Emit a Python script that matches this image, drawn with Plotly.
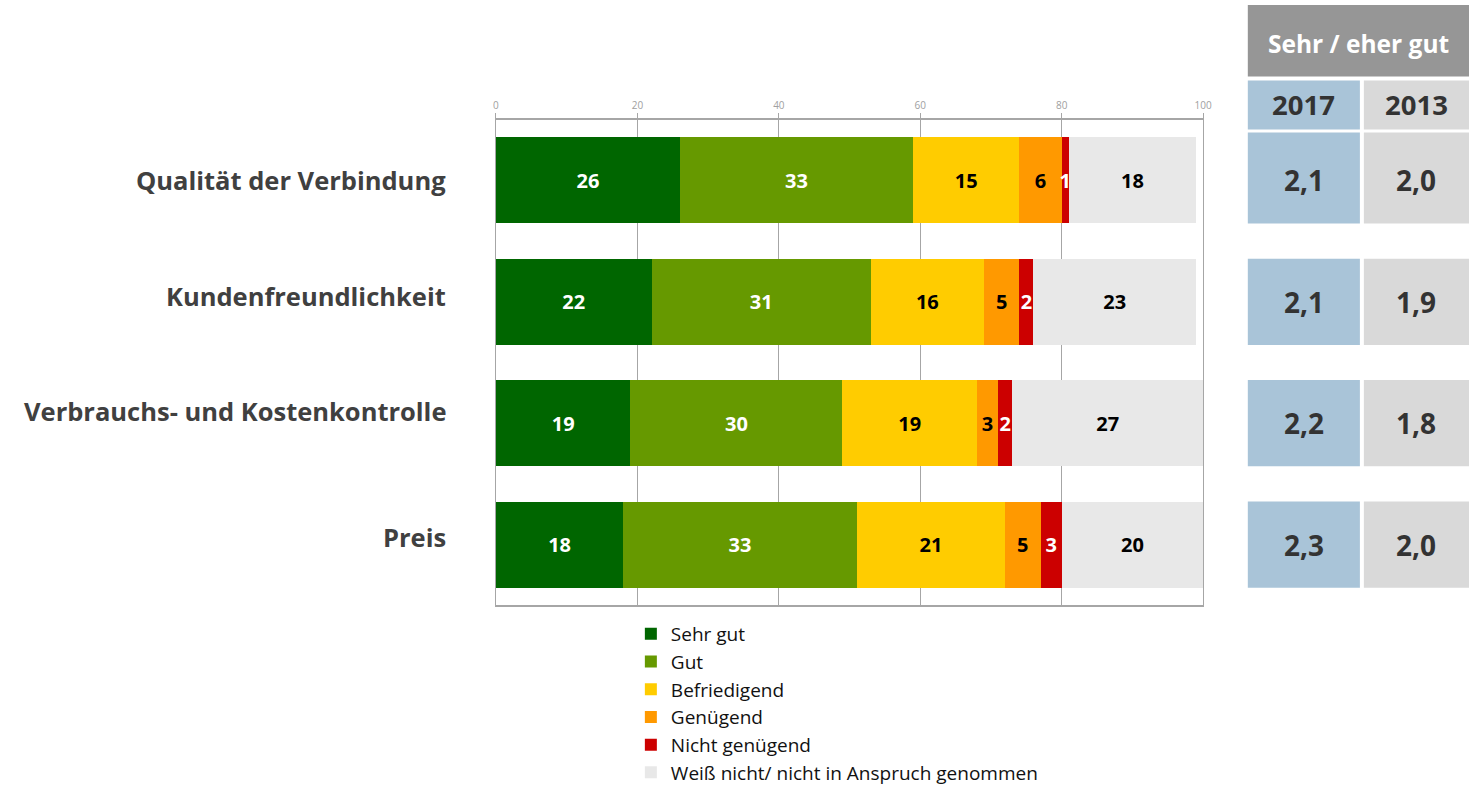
import plotly.graph_objects as go

# Zufriedenheit mit dem Anbieter (Angaben in %)
categories = [
    "Qualität der Verbindung",
    "Kundenfreundlichkeit",
    "Verbrauchs- und Kostenkontrolle",
    "Preis",
]
series_names = [
    "Sehr gut",
    "Gut",
    "Befriedigend",
    "Genügend",
    "Nicht genügend",
    "Weiß nicht/ nicht in Anspruch genommen",
]
sehr_gut = [26, 22, 19, 18]
gut = [33, 31, 30, 33]
befriedigend = [15, 16, 19, 21]
genuegend = [6, 5, 3, 5]
nicht_genuegend = [1, 2, 2, 3]
weiss_nicht = [18, 23, 27, 20]

# Durchschnittsnoten "Sehr / eher gut"
table_header = "Sehr / eher gut"
years = ["2017", "2013"]
score_2017 = ["2,1", "2,1", "2,2", "2,3"]
score_2013 = ["2,0", "1,9", "1,8", "2,0"]

series_values = [sehr_gut, gut, befriedigend, genuegend, nicht_genuegend, weiss_nicht]
colors = ["#006600", "#669900", "#FFCC00", "#FF9900", "#CC0000", "#E8E8E8"]
text_colors = ["white", "white", "black", "black", "white", "black"]

W, H = 1478, 792
FONT = "Open Sans"
BAR_W = 0.71


def px_x(p):
    return p / W


def px_y(p):
    return 1 - p / H


fig = go.Figure()
for name, vals, col, tcol in zip(series_names, series_values, colors, text_colors):
    fig.add_trace(go.Bar(
        y=categories,
        x=vals,
        name=name,
        orientation="h",
        width=BAR_W,
        marker=dict(color=col, line=dict(width=0)),
        text=vals,
        texttemplate="%{x}",
        textposition="inside",
        insidetextanchor="middle",
        textangle=0,
        constraintext="none",
        insidetextfont=dict(family=FONT, size=20, color=tcol, weight="bold"),
        cliponaxis=False,
        hoverinfo="skip",
    ))

grid_col = "#A6A6A6"
fig.update_layout(
    width=W,
    height=H,
    barmode="stack",
    paper_bgcolor="white",
    plot_bgcolor="white",
    margin=dict(l=0, r=0, t=0, b=0),
    showlegend=True,
    legend=dict(
        x=px_x(633), y=px_y(627), xanchor="left", yanchor="top",
        font=dict(family=FONT, size=19, color="#111111"),
        traceorder="normal",
        bgcolor="rgba(0,0,0,0)",
        itemclick=False,
    ),
    xaxis=dict(
        domain=[px_x(497), px_x(1210)],
        range=[0, 100],
        side="top",
        tickvals=[0, 20, 40, 60, 80, 100],
        tickfont=dict(family=FONT, size=10, color="#A0A0A0"),
        ticks="outside",
        ticklen=5,
        tickcolor=grid_col,
        showgrid=True,
        gridcolor=grid_col,
        gridwidth=1,
        showline=True,
        linecolor=grid_col,
        linewidth=1.5,
        mirror=True,
        zeroline=False,
        fixedrange=True,
    ),
    yaxis=dict(
        domain=[px_y(617), px_y(122)],
        autorange="reversed",
        showticklabels=False,
        ticks="",
        showgrid=False,
        showline=True,
        linecolor=grid_col,
        linewidth=1,
        mirror=True,
        fixedrange=True,
    ),
)

# Kategorienbeschriftungen links
label_shift = [0, 6, 12, 8]
for cat, ys in zip(categories, label_shift):
    fig.add_annotation(
        x=px_x(449), xref="paper", xanchor="right",
        y=cat, yref="y", yanchor="middle", yshift=ys,
        text=cat, showarrow=False,
        font=dict(family=FONT, size=25.5, color="#404040", weight="bold"),
    )

# Tabelle rechts: Kopf
header_col = "#969696"
blue = "#A9C4D8"
light = "#D9D9D9"
col_2017 = (1255, 1368)
col_2013 = (1372, 1478)

fig.add_shape(type="rect", xref="paper", yref="paper",
              x0=px_x(1255), x1=px_x(1478), y0=px_y(78), y1=px_y(5),
              fillcolor=header_col, line=dict(width=0), layer="below")
fig.add_annotation(x=px_x((1255 + 1478) / 2), y=px_y(44), xref="paper", yref="paper",
                   xanchor="center", yanchor="middle",
                   text=table_header, showarrow=False,
                   font=dict(family=FONT, size=24.5, color="white", weight="bold"))

for (c0, c1), fill, yr in zip([col_2017, col_2013], [blue, light], years):
    fig.add_shape(type="rect", xref="paper", yref="paper",
                  x0=px_x(c0), x1=px_x(c1), y0=px_y(132), y1=px_y(82),
                  fillcolor=fill, line=dict(width=0), layer="below")
    fig.add_annotation(x=px_x((c0 + c1) / 2), y=px_y(107), xref="paper", yref="paper",
                       xanchor="center", yanchor="middle",
                       text=yr, showarrow=False,
                       font=dict(family=FONT, size=27.5, color="#333333", weight="bold"))

# Tabelle rechts: Werte je Kategorie, auf Höhe der Balken
first_extend = 5 / 123.75
for i, cat in enumerate(categories):
    top = i - BAR_W / 2 - (first_extend if i == 0 else 0)
    bottom = i + BAR_W / 2
    for (c0, c1), fill, vals in zip([col_2017, col_2013], [blue, light], [score_2017, score_2013]):
        fig.add_shape(type="rect", xref="paper", yref="y",
                      x0=px_x(c0), x1=px_x(c1), y0=top, y1=bottom,
                      fillcolor=fill, line=dict(width=0), layer="below")
        fig.add_annotation(x=px_x((c0 + c1) / 2), xref="paper", y=cat, yref="y",
                           xanchor="center", yanchor="middle",
                           text=vals[i], showarrow=False,
                           font=dict(family=FONT, size=28, color="#333333", weight="bold"))

fig.write_html(
    "out.html",
    post_script="document.body.style.margin='0px';document.body.style.overflow='hidden';",
)
